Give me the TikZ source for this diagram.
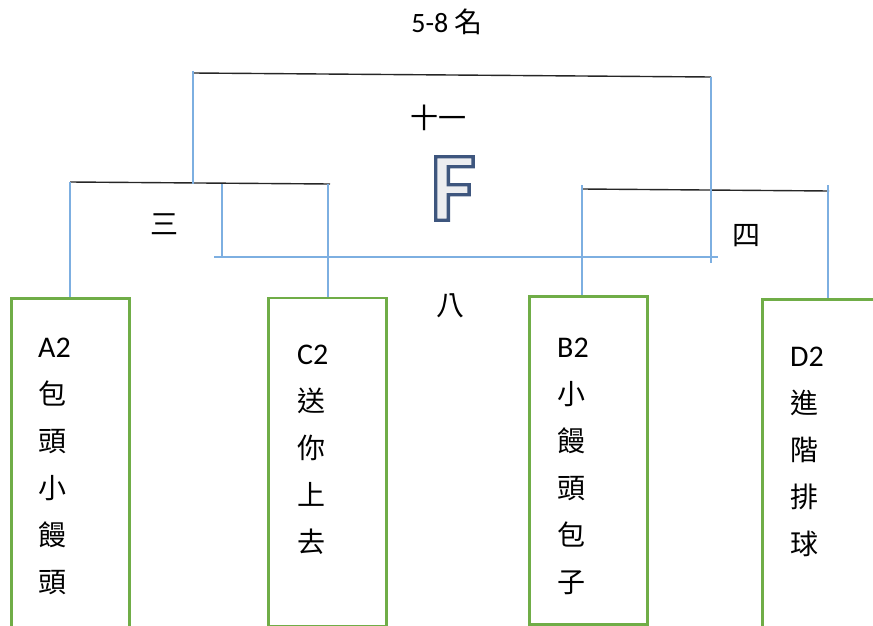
\documentclass[tikz,border=0pt]{standalone}
\usepackage{fontspec}
\setmainfont{Carlito}
\newfontfamily\cjk{Noto Sans CJK TC}
\newfontfamily\wordart[BoldFeatures={FakeBold=3.5}]{Carlito}
\definecolor{bracketblue}{RGB}{125,175,225}
\definecolor{boxgreen}{RGB}{112,173,71}
\newcommand\zhtxt[1]{{\cjk\fontsize{28}{47}\selectfont #1}}
\begin{document}
\begin{tikzpicture}[x=1pt,y=-1pt,
  blackline/.style={draw=black!85, line width=1.4pt},
  blueline/.style={draw=bracketblue, line width=1.5pt},
  team/.style={draw=boxgreen, line width=2.8pt, anchor=north west, inner sep=0pt, minimum width=118pt},
  lbl/.style={inner sep=0pt, font=\cjk\fontsize{28}{28}\selectfont},
  column/.style={anchor=north west, inner sep=0pt, align=left, font=\fontsize{30}{47}\selectfont},
]
\useasboundingbox (0,0) rectangle (873,626);
\clip (0,0) rectangle (873,626);

% team boxes
\node[team, minimum height=345pt] (boxA) at (10,297) {};
\node[team, minimum height=328pt] (boxC) at (267,296.5) {};
\node[team, minimum height=328pt] (boxB) at (528,295) {};
\node[team, minimum height=345pt] (boxD) at (761,298) {};

% team names
\node[column] (txtA) at (38,338) {A2\\\zhtxt{包}\\\zhtxt{頭}\\\zhtxt{小}\\\zhtxt{饅}\\\zhtxt{頭}};
\node[column] (txtC) at (297,345) {C2\\\zhtxt{送}\\\zhtxt{你}\\\zhtxt{上}\\\zhtxt{去}};
\node[column] (txtB) at (557,338) {B2\\\zhtxt{小}\\\zhtxt{饅}\\\zhtxt{頭}\\\zhtxt{包}\\\zhtxt{子}};
\node[column] (txtD) at (790,347) {D2\\\zhtxt{進}\\\zhtxt{階}\\\zhtxt{排}\\\zhtxt{球}};

% bracket coordinates
\coordinate (tL) at (193,73);
\coordinate (tR) at (711,77);
\coordinate (lL) at (70,182);
\coordinate (lR) at (330,184);
\coordinate (lC) at (328,184);
\coordinate (rL) at (582,189);
\coordinate (rR) at (829,191);
\coordinate (rLt) at (582,185);
\coordinate (rRt) at (828,185);
\coordinate (tLt) at (193,71);
\coordinate (tLb) at (193,184);
\coordinate (tRb) at (711,263);
\coordinate (eL) at (214,257);
\coordinate (eR) at (718,257);
\coordinate (eT) at (222,184);
\coordinate (eB) at (222,258);

% black bracket lines
\draw[blackline] (tL) -- (tR);
\draw[blackline] (lL) -- (lR);
\draw[blackline] (rL) -- (rR);

% blue connectors
\draw[blueline] (lL) -- (lL |- boxA.north);
\draw[blueline] (lC) -- (lC |- boxC.north);
\draw[blueline] (rLt) -- (rLt |- boxB.north);
\draw[blueline] (rRt) -- (rRt |- boxD.north);
\draw[blueline] (tLt) -- (tLb);
\draw[blueline] (tR) -- (tRb);
\draw[blueline] (eT) -- (eB);
\draw[blueline] (eL) -- (eR);

% labels
\node[inner sep=0pt, font=\fontsize{28}{28}\selectfont] (title) at (447,22) {5-8 {\cjk 名}};
\node[lbl] (g11) at (438,118) {十一};
\node[lbl] (g3) at (164,224) {三};
\node[lbl] (g4) at (746,236) {四};
\node[lbl] (g8) at (450,306) {八};

% WordArt F: filled light grey, outlined dark blue
\node[inner sep=0pt, font=\wordart\bfseries\fontsize{98}{98}\selectfont] (bigF) at (453,188.5)
  {\special{pdf:bcolor [0.925 0.93 0.94] [0.243 0.337 0.494]}F\special{pdf:ecolor}};
\end{tikzpicture}
\end{document}
